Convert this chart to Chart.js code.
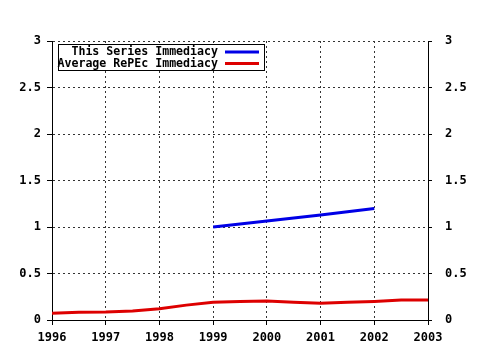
<!DOCTYPE html>
<html>
<head>
<meta charset="utf-8">
<script src="https://cdn.jsdelivr.net/npm/chart.js@4/dist/chart.umd.min.js"></script>
<style>
  html, body { margin: 0; padding: 0; background: #fff; }
  #wrap { width: 480px; height: 350px; }
</style>
</head>
<body>
<div id="wrap"><canvas id="c" width="480" height="350"></canvas></div>
<script>
// 데이터
const yearTicks = [1996, 1997, 1998, 1999, 2000, 2001, 2002, 2003];
const seriesYears = [1999, 2000, 2001, 2002];
const seriesValues = [1.0, 1.065, 1.13, 1.2];
const avgYears = [1996, 1996.5, 1997, 1997.5, 1998, 1998.5, 1999, 1999.5, 2000, 2000.5, 2001, 2001.5, 2002, 2002.5, 2003];
const avgValues = [0.072, 0.083, 0.086, 0.097, 0.12, 0.16, 0.19, 0.2, 0.204, 0.19, 0.18, 0.19, 0.2, 0.215, 0.215];
const legendLabels = ['This Series Immediacy', 'Average RePEc Immediacy'];

const FONT = { family: '"DejaVu Sans Mono", monospace', size: 12, weight: 'bold' };
const BLUE = '#0000e6';
const RED = '#dd0000';

const toPoints = (xs, ys) => xs.map((x, i) => ({ x: x, y: ys[i] }));

// 범례 박스 (플롯 안쪽 왼쪽 위)
const boxLegend = {
  id: 'boxLegend',
  afterDraw(chart) {
    const ctx = chart.ctx;
    const a = chart.chartArea;
    const left = a.left + 6, top = a.top + 3, right = a.left + 212, bottom = a.top + 29;
    ctx.save();
    ctx.fillStyle = '#fff';
    ctx.fillRect(left, top, right - left, bottom - top);
    ctx.strokeStyle = '#000';
    ctx.lineWidth = 1;
    ctx.strokeRect(left + 0.5, top + 0.5, right - left, bottom - top);
    ctx.font = 'bold 11.6px "DejaVu Sans Mono", monospace';
    ctx.textAlign = 'right';
    ctx.textBaseline = 'middle';
    ctx.fillStyle = '#000';
    const colors = [BLUE, RED];
    legendLabels.forEach((txt, i) => {
      const y = top + 8 + i * 11.5;
      ctx.fillText(txt, a.left + 166, y);
      ctx.strokeStyle = colors[i];
      ctx.lineWidth = 3;
      ctx.beginPath();
      ctx.moveTo(a.left + 173, y);
      ctx.lineTo(a.left + 207, y);
      ctx.stroke();
    });
    ctx.restore();
  }
};

const gridStyle = {
  color: '#333',
  lineWidth: 1,
  tickLength: 5,
  tickColor: '#000',
  tickBorderDash: []
};
const borderStyle = { display: true, color: '#000', width: 1, dash: [2, 3] };

new Chart(document.getElementById('c'), {
  type: 'line',
  data: {
    datasets: [
      {
        label: legendLabels[0],
        data: toPoints(seriesYears, seriesValues),
        borderColor: BLUE,
        borderWidth: 3,
        pointRadius: 0,
        tension: 0
      },
      {
        label: legendLabels[1],
        data: toPoints(avgYears, avgValues),
        borderColor: RED,
        borderWidth: 3,
        pointRadius: 0,
        tension: 0
      }
    ]
  },
  options: {
    responsive: false,
    animation: false,
    layout: { padding: { top: 41, left: 0, right: 0, bottom: 0 } },
    plugins: {
      legend: { display: false },
      tooltip: { enabled: false }
    },
    scales: {
      x: {
        type: 'linear',
        min: 1996,
        max: 2003,
        afterFit: s => { s.height = 30; },
        afterBuildTicks: s => { s.ticks = yearTicks.map(v => ({ value: v })); },
        ticks: {
          font: FONT,
          color: '#000',
          padding: 6,
          maxRotation: 0,
          callback: v => String(v)
        },
        grid: gridStyle,
        border: borderStyle
      },
      y: {
        position: 'left',
        min: 0,
        max: 3,
        afterFit: s => { s.width = 52; },
        ticks: { stepSize: 0.5, font: FONT, color: '#000', padding: 6, callback: v => String(v) },
        grid: gridStyle,
        border: borderStyle
      },
      y2: {
        position: 'right',
        min: 0,
        max: 3,
        afterFit: s => { s.width = 52; },
        ticks: { stepSize: 0.5, font: FONT, color: '#000', padding: 13, callback: v => String(v) },
        grid: { drawOnChartArea: false, tickLength: 4, tickColor: '#000' },
        border: { display: true, color: '#000', width: 1 }
      }
    }
  },
  plugins: [boxLegend]
});
</script>
</body>
</html>
